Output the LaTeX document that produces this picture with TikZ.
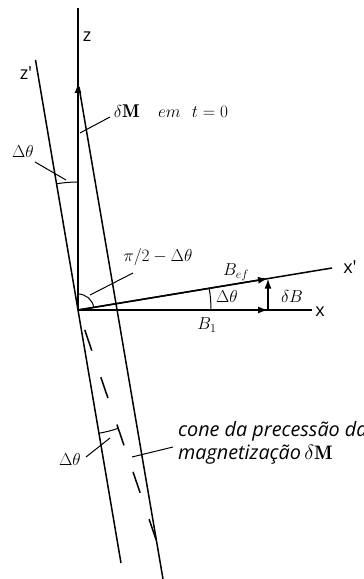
\documentclass[tikz,border=0pt]{standalone}
\usepackage{fontspec}
\usepackage{amsmath}
\newfontfamily\labfont{Open Sans}
\usetikzlibrary{arrows.meta,calc}
\begin{document}
\begin{tikzpicture}[x=1pt,y=1pt,
  axis/.style={line width=1.5pt},
  vec/.style={line width=1.5pt,-{Latex[length=10pt,width=7pt]}},
  lead/.style={line width=1pt},
  angarc/.style={line width=1pt},
  mlab/.style={font=\fontsize{18.5}{21}\selectfont,inner sep=0pt},
  slab/.style={font=\labfont\fontsize{18}{21}\selectfont,inner sep=0pt},
  ilab/.style={font=\labfont\itshape\fontsize{19.8}{22}\selectfont,inner sep=0pt,anchor=base west}]
\useasboundingbox (0,0) rectangle (364,579);
% key points
\coordinate (O) at (78,269);
\coordinate (Ztop) at (78,571);
\coordinate (T) at (78,496);
\coordinate (Rtop) at (79,492);
\coordinate (Rbot) at (163,0);
\coordinate (Zpt) at (35.5,519);
\coordinate (Zpb) at (121,16);
\coordinate (D) at (156.5,38);
\coordinate (X) at (312,269);
\coordinate (B1) at (268,269);
\coordinate (Xp) at (332,311);
\coordinate (Bef) at (268,300.4);
% axes
\draw[axis] (O) -- (Ztop);
\draw[axis] (Zpt) -- (Zpb);
\draw[axis] (Rtop) -- (Rbot);
\draw[axis] (O) -- (X);
\draw[axis] (O) -- (Xp);
\draw[axis,dash pattern=on 22pt off 28pt,dash phase=29pt] (O) -- (D);
% vectors
\draw[vec] (O) -- (T);
\draw[vec] (O) -- (B1);
\draw[vec] (O) -- (Bef);
\draw[vec] (B1) -- (Bef);
% angle arcs
\draw[angarc] ([shift={(90:128)}]O) arc[start angle=90,end angle=99.6,radius=128];
\draw[angarc] ([shift={(9.4:16)}]O) arc[start angle=9.4,end angle=90,radius=16];
\draw[angarc] ([shift={(0:133)}]O) arc[start angle=0,end angle=9.4,radius=133];
\draw[angarc] ([shift={(-80.4:125)}]O) arc[start angle=-80.4,end angle=-71.2,radius=125];
% labels
\node[slab] (lz) at (87,542) {z};
\node[slab] (lzp) at (26,506) {z\textquotesingle};
\node[slab] (lx) at (320,267) {x};
\node[slab] (lxp) at (350,312) {x\textquotesingle};
\node[mlab] (ldM) at (171,468) {$\delta\mathbf{M}\quad em\ \ t=0$};
\node[mlab] (lt1) at (23,427) {$\Delta\theta$};
\node[mlab] (lpi) at (158,322) {$\pi/2-\Delta\theta$};
\node[mlab] (lBef) at (236,307) {$B_{ef}$};
\node[mlab] (lt2) at (227,282) {$\Delta\theta$};
\node[mlab] (ldB) at (292,282) {$\delta B$};
\node[mlab] (lB1) at (207,254) {$B_1$};
\node[mlab] (lt3) at (70,119) {$\Delta\theta$};
\node[ilab] (lc1) at (178,142) {cone da precessão da};
\node[ilab] (lc2) at (178,119) {magnetização\,{\fontsize{19.5}{22}\selectfont$\delta\mathbf{M}$}};
% leaders
\coordinate (a1) at (80,446); \coordinate (a2) at (110,462);
\draw[lead] (a1) -- (a2);
\coordinate (b1) at (35,417); \coordinate (b2) at (66,399);
\draw[lead] (b1) -- (b2);
\coordinate (c1) at (133,306); \coordinate (c2) at (90,284);
\draw[lead] (c1) -- (c2);
\coordinate (d1) at (86,122); \coordinate (d2) at (110,141);
\draw[lead] (d1) -- (d2);
\coordinate (e1) at (132,122); \coordinate (e2) at (173,132);
\draw[lead] (e1) -- (e2);
\end{tikzpicture}
\end{document}
